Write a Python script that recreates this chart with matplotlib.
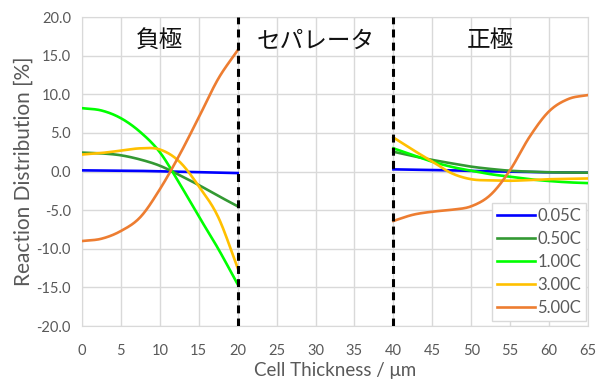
import numpy as np
import matplotlib
matplotlib.use("Agg")
import matplotlib.pyplot as plt

plt.rcParams['font.family'] = ['Lato', 'Noto Sans CJK JP', 'DejaVu Sans']

# reaction distribution [%] at positions across the cell [um]
x_anode = [0, 2.5, 5, 7.5, 10, 12.5, 15, 17.5, 20]
x_cathode = [40, 42.5, 45, 47.5, 50, 52.5, 55, 57.5, 60, 62.5, 65]

rates = ['0.05C', '0.50C', '1.00C', '3.00C', '5.00C']
colors = ['#0000FF', '#339933', '#00FF00', '#FFC000', '#ED7D31']

anode = {
    '0.05C': [0.15, 0.13, 0.11, 0.08, 0.03, -0.03, -0.09, -0.15, -0.2],
    '0.50C': [2.45, 2.35, 2.1, 1.55, 0.75, -0.45, -1.75, -3.15, -4.5],
    '1.00C': [8.2, 7.9, 6.9, 5.1, 2.5, -1.5, -5.8, -10.0, -14.6],
    '3.00C': [2.2, 2.4, 2.7, 3.0, 2.85, 1.3, -1.9, -5.9, -12.5],
    '5.00C': [-9.0, -8.7, -7.7, -5.9, -2.3, 2.1, 7.0, 12.0, 15.7],
}
cathode = {
    '0.05C': [0.28, 0.24, 0.2, 0.15, 0.07, 0.02, -0.03, -0.07, -0.1, -0.13, -0.15],
    '0.50C': [2.56, 2.0, 1.5, 1.05, 0.63, 0.33, 0.1, -0.02, -0.1, -0.13, -0.15],
    '1.00C': [3.0, 2.14, 1.27, 0.6, 0.1, -0.35, -0.67, -1.0, -1.23, -1.4, -1.5],
    '3.00C': [4.4, 2.8, 1.3, -0.23, -1.0, -1.15, -1.2, -1.1, -1.0, -0.95, -0.9],
    '5.00C': [-6.4, -5.6, -5.2, -4.95, -4.5, -3.0, 0.2, 4.5, 7.8, 9.4, 9.9],
}

region_labels = ['負極', 'セパレータ', '正極']
region_x = [10, 30, 52.5]
boundaries = [20, 40]


def smooth(xs, ys, n=20):
    # Catmull-Rom curve through the points, like a smoothed line in a spreadsheet
    xs = np.asarray(xs, float)
    ys = np.asarray(ys, float)
    px = np.concatenate([[2 * xs[0] - xs[1]], xs, [2 * xs[-1] - xs[-2]]])
    py = np.concatenate([[2 * ys[0] - ys[1]], ys, [2 * ys[-1] - ys[-2]]])
    t = np.linspace(0, 1, n, endpoint=False)
    outx, outy = [], []
    for i in range(1, len(px) - 2):
        for p, out in ((px, outx), (py, outy)):
            p0, p1, p2, p3 = p[i - 1], p[i], p[i + 1], p[i + 2]
            out.extend(0.5 * (2 * p1 + (-p0 + p2) * t
                              + (2 * p0 - 5 * p1 + 4 * p2 - p3) * t ** 2
                              + (-p0 + 3 * p1 - 3 * p2 + p3) * t ** 3))
    outx.append(xs[-1])
    outy.append(ys[-1])
    return outx, outy


fig = plt.figure(figsize=(6.01, 3.79), dpi=100)
ax = fig.add_axes([0.1364, 0.1398, 0.8420, 0.8153])

for rate, c in zip(rates, colors):
    sx, sy = smooth(x_anode, anode[rate])
    ax.plot(sx, sy, color=c, lw=1.9, label=rate, zorder=3)
    sx, sy = smooth(x_cathode, cathode[rate])
    ax.plot(sx, sy, color=c, lw=1.9, zorder=3)

for b in boundaries:
    ax.plot([b, b], [-20, 20], color='black', lw=2.2, ls=(0, (2.6, 1.7)), zorder=4)

for lab, xl in zip(region_labels, region_x):
    ax.text(xl, 16.9, lab, ha='center', va='center', fontsize=17,
            family=['Noto Sans CJK JP', 'DejaVu Sans'], color='#111111')

ax.set_xlim(0, 65)
ax.set_ylim(-20, 20)
ax.set_xticks(np.arange(0, 66, 5))
ax.set_yticks(np.arange(-20, 21, 5))
ax.set_yticklabels([f'{v:.1f}' for v in np.arange(-20, 21, 5)])
ax.grid(color='#d9d9d9', lw=1.0)
ax.set_axisbelow(True)
for s in ax.spines.values():
    s.set_color('#d9d9d9')
ax.tick_params(length=0, labelsize=10.5, labelcolor='#595959')
ax.tick_params(axis='x', pad=13)
ax.tick_params(axis='y', pad=8)

ax.set_xlabel('Cell Thickness / μm', fontsize=13.5, color='#595959', labelpad=3)
ax.set_ylabel('Reaction Distribution [%]', fontsize=15, color='#595959', labelpad=2)

leg = ax.legend(loc='lower right', bbox_to_anchor=(1.0, 0.01), fontsize=12,
                frameon=True, fancybox=False, edgecolor='#d9d9d9', framealpha=1,
                handlelength=2.3, handletextpad=0.15, labelspacing=0.42,
                borderpad=0.3, borderaxespad=0.1)
for t in leg.get_texts():
    t.set_color('#595959')

plt.savefig('out.png', dpi=100)
